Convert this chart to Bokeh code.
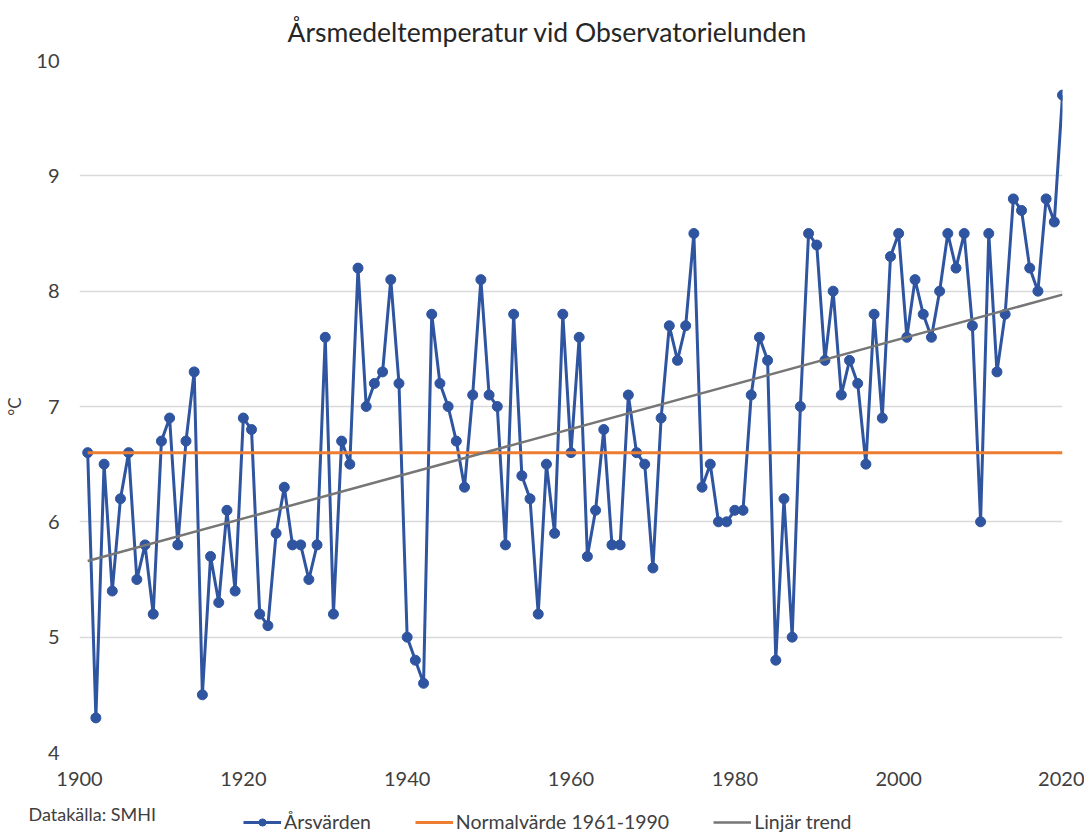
from bokeh.plotting import figure
from bokeh.models import Range1d, FixedTicker, Legend, LegendItem, Label
from bokeh.embed import file_html
from bokeh.resources import INLINE

# ---- data ----
years = list(range(1901, 2021))
arsvarden = [
    6.6, 4.3, 6.5, 5.4, 6.2, 6.6, 5.5, 5.8, 5.2, 6.7,   # 1901-1910
    6.9, 5.8, 6.7, 7.3, 4.5, 5.7, 5.3, 6.1, 5.4, 6.9,   # 1911-1920
    6.8, 5.2, 5.1, 5.9, 6.3, 5.8, 5.8, 5.5, 5.8, 7.6,   # 1921-1930
    5.2, 6.7, 6.5, 8.2, 7.0, 7.2, 7.3, 8.1, 7.2, 5.0,   # 1931-1940
    4.8, 4.6, 7.8, 7.2, 7.0, 6.7, 6.3, 7.1, 8.1, 7.1,   # 1941-1950
    7.0, 5.8, 7.8, 6.4, 6.2, 5.2, 6.5, 5.9, 7.8, 6.6,   # 1951-1960
    7.6, 5.7, 6.1, 6.8, 5.8, 5.8, 7.1, 6.6, 6.5, 5.6,   # 1961-1970
    6.9, 7.7, 7.4, 7.7, 8.5, 6.3, 6.5, 6.0, 6.0, 6.1,   # 1971-1980
    6.1, 7.1, 7.6, 7.4, 4.8, 6.2, 5.0, 7.0, 8.5, 8.4,   # 1981-1990
    7.4, 8.0, 7.1, 7.4, 7.2, 6.5, 7.8, 6.9, 8.3, 8.5,   # 1991-2000
    7.6, 8.1, 7.8, 7.6, 8.0, 8.5, 8.2, 8.5, 7.7, 6.0,   # 2001-2010
    8.5, 7.3, 7.8, 8.8, 8.7, 8.2, 8.0, 8.8, 8.6, 9.7,   # 2011-2020
]
normal_years = [1901, 2020]
normal_values = [6.6, 6.6]
trend_years = [1901, 2020]
trend_values = [5.66, 7.97]
x_ticks = [1900, 1920, 1940, 1960, 1980, 2000, 2020]
y_ticks = [4, 5, 6, 7, 8, 9, 10]

title_text = "Årsmedeltemperatur vid Observatorielunden"
source_text = "Datakälla: SMHI"
legend_labels = ["Årsvärden", "Normalvärde 1961-1990", "Linjär trend"]

FONT = "Lato"
TXT = "#404040"
BLUE = "#2F54A0"
ORANGE = "#ED7D31"
GREY = "#767676"
W = 1084


def add_series(fig):
    r_line = fig.line(years, arsvarden, line_color=BLUE, line_width=3)
    r_pts = fig.scatter(years, arsvarden, size=10, fill_color=BLUE, line_color=BLUE)
    r_norm = fig.line(normal_years, normal_values, line_color=ORANGE, line_width=3)
    r_trend = fig.line(trend_years, trend_values, line_color=GREY, line_width=2.5)
    return [[r_line, r_pts], [r_norm], [r_trend]]


# ---- main chart ----
p = figure(width=W, height=801, output_backend="svg", toolbar_location=None,
           x_range=Range1d(1900, 2020), y_range=Range1d(4, 10),
           min_border_left=79, min_border_right=22, min_border_top=59, min_border_bottom=49)
p.outline_line_color = None

p.title.text = title_text
p.title.align = "left"
p.title.offset = 208
p.title.standoff = 26
p.title.text_font = FONT
p.title.text_font_size = "26.5px"
p.title.text_font_style = "normal"
p.title.text_color = "#262626"

p.xaxis.ticker = FixedTicker(ticks=x_ticks)
p.yaxis.ticker = FixedTicker(ticks=y_ticks)
for ax in (p.xaxis[0], p.yaxis[0]):
    ax.axis_line_color = None
    ax.major_tick_line_color = None
    ax.minor_tick_line_color = None
    ax.major_tick_out = 0
    ax.major_tick_in = 0
    ax.major_label_text_font = FONT
    ax.major_label_text_font_size = "20px"
    ax.major_label_text_color = TXT
p.xaxis.major_label_standoff = 19
p.yaxis.major_label_standoff = 20
p.yaxis.axis_label = "°C"
p.yaxis.axis_label_text_font = FONT
p.yaxis.axis_label_text_font_size = "17px"
p.yaxis.axis_label_text_font_style = "normal"
p.yaxis.axis_label_text_color = TXT
p.yaxis.axis_label_standoff = 8

p.xgrid.grid_line_color = None
p.ygrid.grid_line_color = "#D9D9D9"
p.ygrid.grid_line_width = 1.5

add_series(p)

# ---- bottom strip: source note + legend (separate root, so its frame is not aligned) ----
q = figure(width=W, height=32, output_backend="svg", toolbar_location=None,
           x_range=Range1d(1900, 2020), y_range=Range1d(20, 21),
           x_axis_location=None, y_axis_location=None,
           min_border_left=0, min_border_right=0, min_border_top=0, min_border_bottom=0)
q.grid.visible = False
q.outline_line_color = None
groups = add_series(q)

q.add_layout(Label(x=28, y=20, x_units="screen", y_units="screen", text=source_text,
                   text_align="left", text_baseline="middle", text_font=FONT,
                   text_font_size="18px", text_color=TXT))

legend = Legend(items=[LegendItem(label=lab, renderers=rs) for lab, rs in zip(legend_labels, groups)],
                orientation="horizontal", location=(243, 0))
legend.border_line_color = None
legend.background_fill_alpha = 0
legend.padding = 0
legend.margin = 0
legend.spacing = 44
legend.glyph_width = 38
legend.glyph_height = 18
legend.label_height = 18
legend.label_standoff = 3
legend.label_text_font = FONT
legend.label_text_font_size = "19.5px"
legend.label_text_color = TXT
q.add_layout(legend)

open("out.html", "w").write(file_html([p, q], INLINE))
